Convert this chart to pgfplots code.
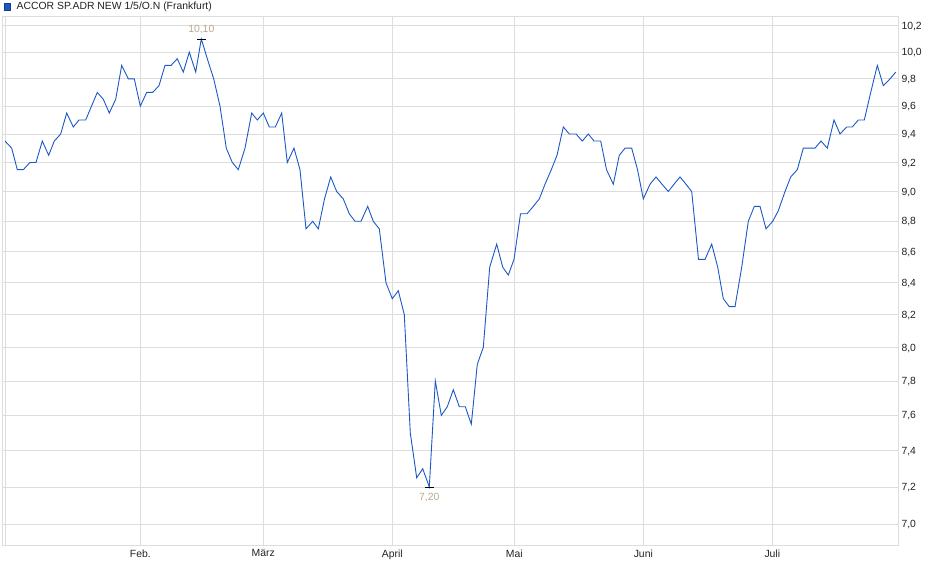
\documentclass[border=0pt]{standalone}
\usepackage{fontspec}
\setmainfont{Liberation Sans}
\usepackage{pgfplots}
\pgfplotsset{compat=1.18}
\definecolor{kurs}{HTML}{1C58C4}
\definecolor{gitter}{HTML}{DDDDDD}
\definecolor{extrem}{HTML}{BAA68F}
\definecolor{schrift}{HTML}{222222}

\begin{document}
\begin{tikzpicture}
\path (0bp,0bp) rectangle (940bp,579bp);
\begin{axis}[
  at={(2.5bp,34bp)}, anchor=south west,
  scale only axis, width=895.5bp, height=529bp,
  xmin=2.5, xmax=898,
  ymode=log, ymin=6.891, ymax=10.277,
  axis line style={gitter, line width=0.8bp},
  grid=major, major grid style={gitter, line width=0.8bp},
  major tick length=0pt,
  xtick={140.3,263.3,392.3,514.3,643.3,772.3},
  xticklabels={Feb.,März,April,Mai,Juni,Juli},
  extra x ticks={5.3}, extra x tick labels={},
  ytick={7.0,7.2,7.4,7.6,7.8,8.0,8.2,8.4,8.6,8.8,9.0,9.2,9.4,9.6,9.8,10.0,10.2},
  yticklabels={{7,0},{7,2},{7,4},{7,6},{7,8},{8,0},{8,2},{8,4},{8,6},{8,8},{9,0},{9,2},{9,4},{9,6},{9,8},{10,0},{10,2}},
  yticklabel pos=right,
  tick label style={font=\fontsize{10.4bp}{12bp}\selectfont, text=schrift},
  yticklabel style={anchor=west, text depth=0pt},
  xticklabel style={yshift=-1bp},
  legend style={at={(axis description cs:0.0009,1.030)}, anchor=north west,
    draw=none, fill=none, font=\fontsize{10.4bp}{12bp}\selectfont,
    inner sep=0pt, text=schrift},
  legend cell align=left,
]
\addplot[kurs, line width=0.9bp,
  legend image code/.code={\filldraw[draw=kurs!70!black, fill=kurs, line width=0.6bp] (0bp,-3.3bp) rectangle (6.6bp,3.3bp);}]
coordinates {
(5,9.35) (11.7,9.30) (17.3,9.15) (23.3,9.15) (30,9.20) (36,9.20) (42.3,9.35)
(48.7,9.25) (54.3,9.35) (60.7,9.40) (66.7,9.55) (73.3,9.45) (79,9.50) (85.7,9.50)
(91.5,9.60) (97.3,9.70) (103.3,9.65) (109.3,9.55) (115.7,9.65) (121.7,9.90)
(128.3,9.80) (134.3,9.80) (140.3,9.60) (146.7,9.70) (152.7,9.70) (159,9.75)
(165,9.90) (171,9.90) (177.3,9.95) (183.3,9.85) (189.3,10.00) (195.7,9.85)
(201.3,10.10) (207.3,9.95) (213.7,9.80) (220,9.60) (226.3,9.30) (232.3,9.20)
(238.3,9.15) (245,9.30) (251.7,9.55) (257.3,9.50) (263.3,9.55) (269.3,9.45)
(275.3,9.45) (281.7,9.55) (287.3,9.20) (294,9.30) (300,9.15) (306,8.75)
(312.7,8.80) (318.3,8.75) (324.5,8.95) (330.7,9.10) (336.7,9.00) (343.3,8.95)
(349.3,8.85) (355,8.80) (361,8.80) (367.7,8.90) (373.3,8.80) (379.3,8.75)
(386,8.40) (392.3,8.30) (398.3,8.35) (404.3,8.20) (410.3,7.50) (416.7,7.25)
(422.7,7.30) (429.3,7.20) (435.3,7.80) (441.3,7.60) (447.3,7.65) (453.3,7.75)
(459.3,7.65) (465.3,7.65) (471.3,7.55) (477.3,7.90) (483.3,8.00) (489.7,8.50)
(496.7,8.65) (502.7,8.50) (508.3,8.45) (514,8.55) (520.5,8.85) (527,8.85)
(533.3,8.90) (539.3,8.95) (545,9.05) (551.3,9.15) (557,9.25) (563.3,9.45)
(569.3,9.40) (576,9.40) (582.3,9.35) (588.3,9.40) (594,9.35) (600.7,9.35)
(606.5,9.15) (613.3,9.05) (619.3,9.25) (625,9.30) (631.7,9.30) (637.5,9.15)
(643.3,8.95) (650,9.05) (656,9.10) (662,9.05) (668.3,9.00) (674,9.05)
(680,9.10) (686,9.05) (691.7,9.00) (698.5,8.55) (705,8.55) (711.7,8.65)
(717.7,8.50) (723.3,8.30) (729.3,8.25) (735,8.25) (741.7,8.50) (748.3,8.80)
(754.3,8.90) (760,8.90) (766,8.75) (772.7,8.80) (778.3,8.87) (785,9.00)
(790.7,9.10) (797.3,9.15) (803.3,9.30) (809,9.30) (815,9.30) (821,9.35)
(827.3,9.30) (834,9.50) (840,9.40) (846.7,9.45) (852.3,9.45) (858.3,9.50)
(864.3,9.50) (870.7,9.70) (877.3,9.90) (883.3,9.75) (890,9.80) (895.7,9.85)
};
\addlegendentry{\hspace{4bp}ACCOR SP.ADR NEW 1/5/O.N (Frankfurt)}
% Hoch und Tief
\addplot[black, only marks, mark=-, mark size=4.65bp, mark options={line width=0.8bp},
  nodes near coords={10,10},
  nodes near coords style={extrem, anchor=south, yshift=1.5bp, font=\fontsize{10.4bp}{12bp}\selectfont}]
  coordinates {(201.3,10.10)};
\addplot[black, only marks, mark=-, mark size=4.2bp, mark options={line width=0.8bp},
  nodes near coords={7,20},
  nodes near coords style={extrem, anchor=north, yshift=-2.5bp, font=\fontsize{10.4bp}{12bp}\selectfont}]
  coordinates {(429.3,7.20)};
\end{axis}
\end{tikzpicture}
\end{document}
